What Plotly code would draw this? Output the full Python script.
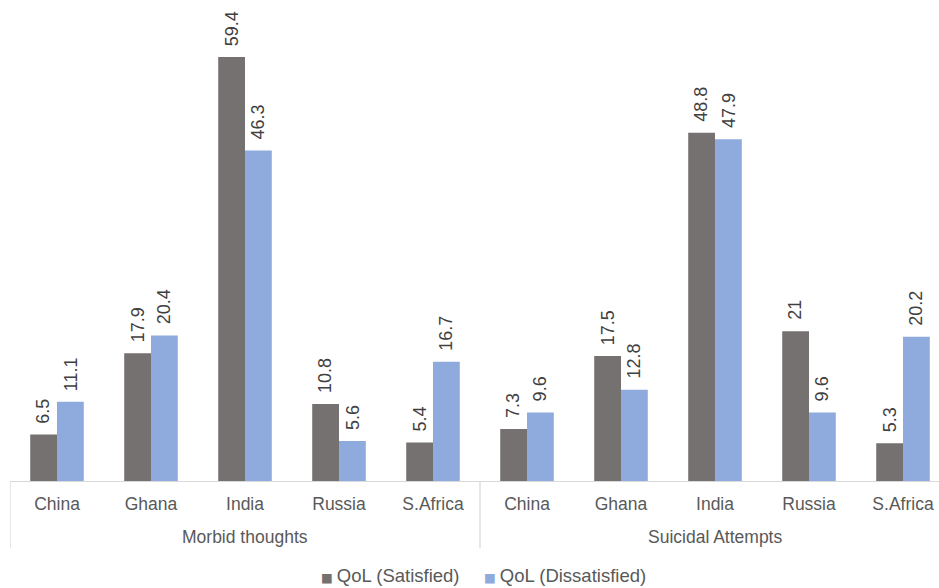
import plotly.graph_objects as go

# Data
groups = ["Morbid thoughts", "Suicidal Attempts"]
countries = ["China", "Ghana", "India", "Russia", "S.Africa"]
satisfied = [6.5, 17.9, 59.4, 10.8, 5.4, 7.3, 17.5, 48.8, 21, 5.3]
dissatisfied = [11.1, 20.4, 46.3, 5.6, 16.7, 9.6, 12.8, 47.9, 9.6, 20.2]
series_names = ["QoL (Satisfied)", "QoL (Dissatisfied)"]

# Styling
GRAY = "#767171"
BLUE = "#8FAADC"
TEXT = "#404040"
AXIS_TEXT = "#595959"
LINE = "#D9D9D9"
FONT = "Liberation Sans, Arial, sans-serif"
BAR_W = 0.285

n = len(satisfied)
xs = list(range(n))
tick_labels = [c for _ in groups for c in countries]
colors = [GRAY, BLUE]

fig = go.Figure()
fig.add_trace(go.Bar(x=xs, y=satisfied, name=series_names[0], marker_color=GRAY,
                     width=BAR_W, offset=-BAR_W, marker_line_width=0))
fig.add_trace(go.Bar(x=xs, y=dissatisfied, name=series_names[1], marker_color=BLUE,
                     width=BAR_W, offset=0, marker_line_width=0))

annotations = []
for i in range(n):
    for val, dx in ((satisfied[i], -BAR_W / 2), (dissatisfied[i], BAR_W / 2)):
        annotations.append(dict(
            x=i + dx, y=val, xref="x", yref="y", text=f"{val:g}",
            showarrow=False, textangle=-90, xanchor="center", yanchor="bottom",
            yshift=9, font=dict(family=FONT, size=18, color=TEXT)))

# Group labels under the country labels
per_group = len(countries)
for gi, g in enumerate(groups):
    annotations.append(dict(
        x=gi * per_group + (per_group - 1) / 2, y=0, xref="x", yref="paper",
        text=g, showarrow=False, xanchor="center", yanchor="middle", yshift=-56,
        font=dict(family=FONT, size=17.5, color=AXIS_TEXT)))

# Legend row drawn as text with coloured square markers
legend_x = [0.333, 0.508]
for name, col, lx in zip(series_names, colors, legend_x):
    annotations.append(dict(
        x=lx, y=0, xref="paper", yref="paper", xanchor="left", yanchor="middle",
        yshift=-94, showarrow=False,
        text=f'<span style="color:{col};font-size:12.5px;font-family:DejaVu Sans">■ </span>{name}',
        font=dict(family=FONT, size=18.5, color=AXIS_TEXT)))

# Divider lines framing the two category groups
shapes = []
for xb in (-0.5, per_group - 0.5, 2 * per_group - 0.5):
    shapes.append(dict(type="line", xref="x", yref="paper", x0=xb, x1=xb,
                       y0=0, y1=-0.14, line=dict(color=LINE, width=1.3)))

fig.update_layout(
    width=939, height=588,
    margin=dict(l=10, r=0, t=0, b=107),
    paper_bgcolor="white", plot_bgcolor="white",
    barmode="overlay",
    showlegend=False,
    xaxis=dict(range=[-0.5, 9.383], tickmode="array", tickvals=xs, ticktext=tick_labels,
               showline=True, linecolor=LINE, linewidth=1.3, showgrid=False, zeroline=False,
               ticks="outside", ticklen=7, tickcolor="rgba(0,0,0,0)",
               tickfont=dict(family=FONT, size=17.5, color=AXIS_TEXT)),
    yaxis=dict(range=[0, 67.4], visible=False, showgrid=False, zeroline=False),
    annotations=annotations,
    shapes=shapes,
)

fig.write_html("out.html")
